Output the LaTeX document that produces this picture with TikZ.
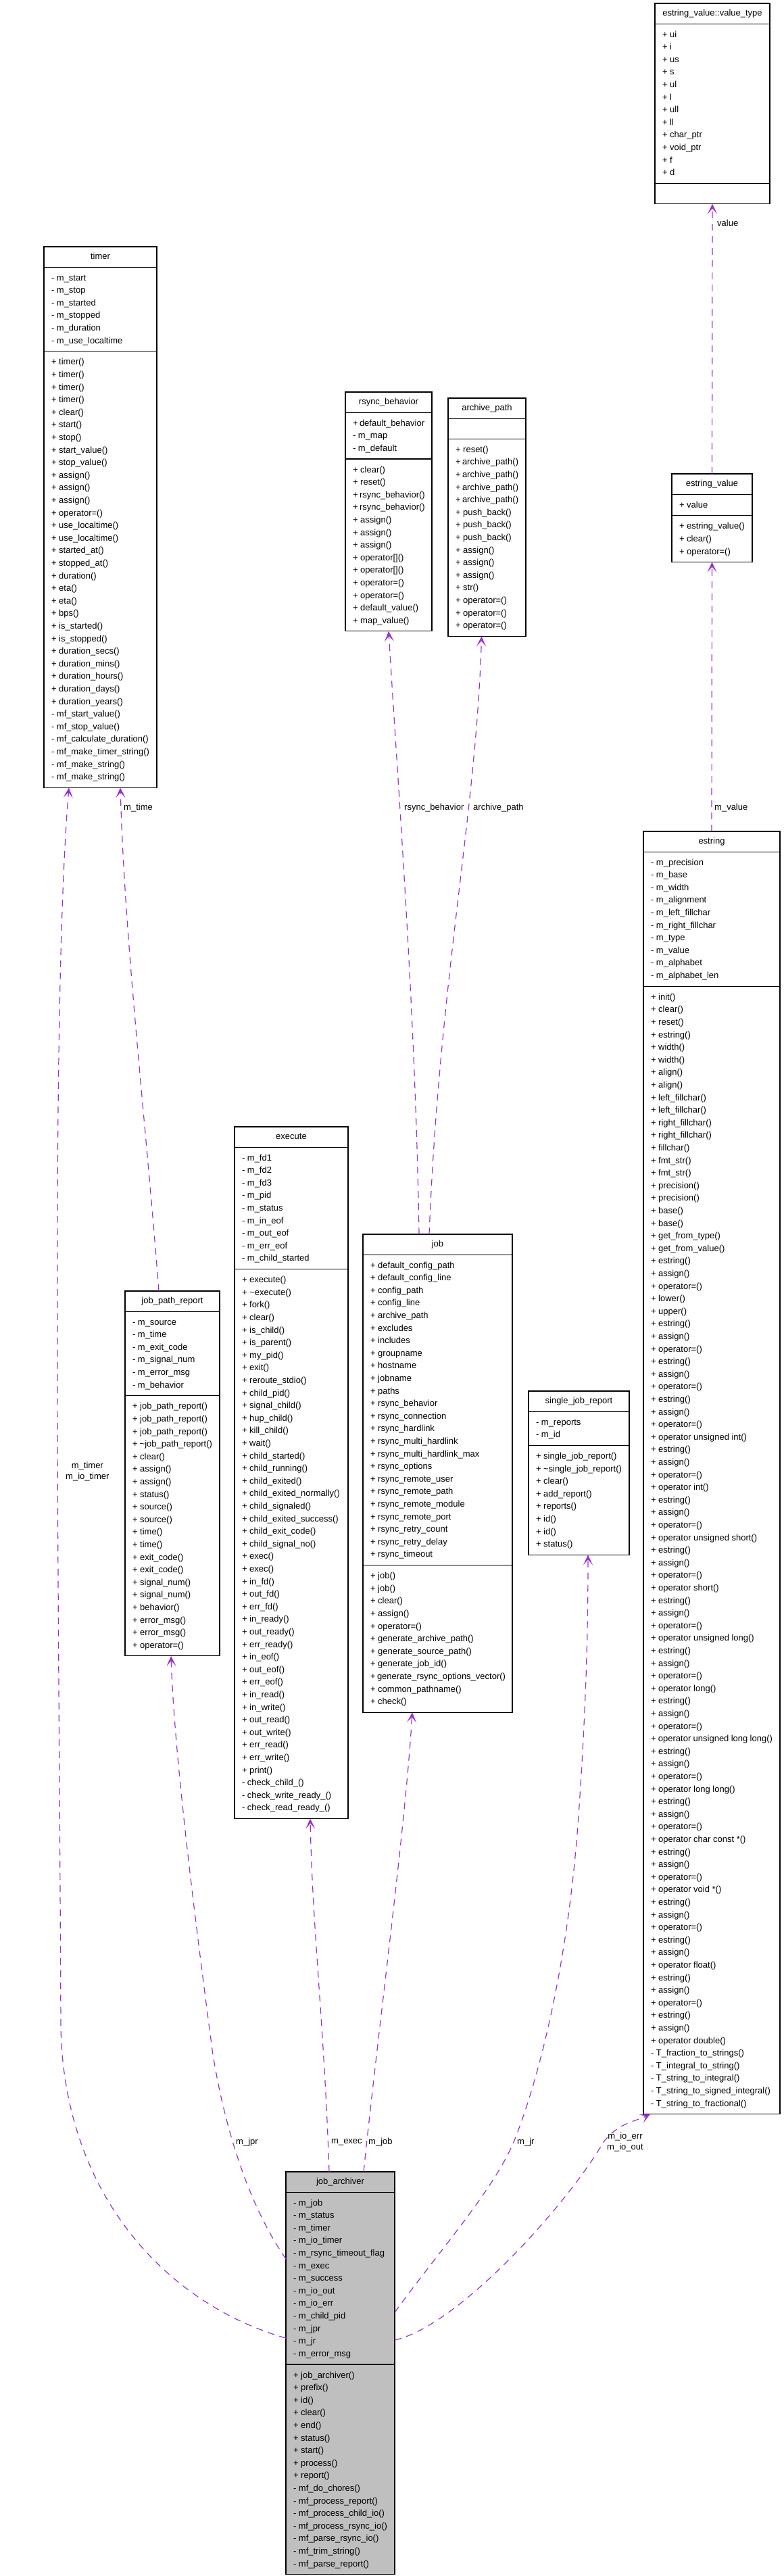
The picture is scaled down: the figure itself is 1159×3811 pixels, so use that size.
\documentclass[tikz,border=0pt]{standalone}
\usepackage{fontspec}
\setmainfont{Liberation Sans}
\usetikzlibrary{shapes.multipart,arrows.meta,calc}
\definecolor{relc}{RGB}{154,50,205}
\definecolor{mainfill}{RGB}{191,191,191}
\newcommand{\cl}[1]{\hbox to \hsize{\rule[-5.1pt]{0pt}{18.6pt}#1\hfil}}
\newcommand{\pub}[1]{\cl{+ #1}}
\newcommand{\pri}[1]{\cl{- #1}}
\newcommand{\cempty}{\hbox to \hsize{\rule{0pt}{17pt}\hfil}}
\newcommand{\umlbox}[8]{%
  \node[cls,#1] (#2) at (#3,#4) {\hbox to \dimexpr#5pt-22pt\relax{\hfil\rule[-4.6pt]{0pt}{17pt}#6\hfil}%
   \nodepart{two}\vbox{\hsize=\dimexpr#5pt-22pt\relax\offinterlineskip#7}%
   \nodepart{three}\vbox{\hsize=\dimexpr#5pt-22pt\relax\offinterlineskip#8}};}
\tikzset{
  cls/.style={draw=black, line width=1.1pt, fill=white, rectangle split, rectangle split parts=3,
    inner xsep=11pt, inner ysep=6pt, outer sep=0pt, anchor=north west, font=\fontsize{13}{15}\selectfont},
  mainbox/.style={fill=mainfill},
  rel/.style={draw=relc, line width=1.2pt, dash pattern=on 10pt off 8pt,
    -{Stealth[length=15pt,width=14pt,inset=8pt]}},
  lbl/.style={font=\fontsize{13}{16}\selectfont, inner sep=1pt, anchor=west, align=center}
}
\begin{document}
\begin{tikzpicture}[x=1pt,y=-1pt]
\useasboundingbox (0,0) rectangle (1159,3811);
\fill[white] (0,0) rectangle (1159,3811);

\umlbox{}{vt}{969}{5}{170}{estring\_value::value\_type}
{\pub{ui}\pub{i}\pub{us}\pub{s}\pub{ul}\pub{l}\pub{ull}\pub{ll}\pub{char\_ptr}\pub{void\_ptr}\pub{f}\pub{d}}
{\cempty}

\umlbox{}{tm}{65}{365}{167}{timer}
{\pri{m\_start}\pri{m\_stop}\pri{m\_started}\pri{m\_stopped}\pri{m\_duration}\pri{m\_use\_localtime}}
{\pub{timer()}\pub{timer()}\pub{timer()}\pub{timer()}\pub{clear()}\pub{start()}\pub{stop()}\pub{start\_value()}\pub{stop\_value()}\pub{assign()}\pub{assign()}\pub{assign()}\pub{operator=()}\pub{use\_localtime()}\pub{use\_localtime()}\pub{started\_at()}\pub{stopped\_at()}\pub{duration()}\pub{eta()}\pub{eta()}\pub{bps()}\pub{is\_started()}\pub{is\_stopped()}\pub{duration\_secs()}\pub{duration\_mins()}\pub{duration\_hours()}\pub{duration\_days()}\pub{duration\_years()}\pri{mf\_start\_value()}\pri{mf\_stop\_value()}\pri{mf\_calculate\_duration()}\pri{mf\_make\_timer\_string()}\pri{mf\_make\_string()}\pri{mf\_make\_string()}}

\umlbox{}{rb}{511}{580}{128}{rsync\_behavior}
{\pub{default\_behavior}\pri{m\_map}\pri{m\_default}}
{\pub{clear()}\pub{reset()}\pub{rsync\_behavior()}\pub{rsync\_behavior()}\pub{assign()}\pub{assign()}\pub{assign()}\pub{operator[]()}\pub{operator[]()}\pub{operator=()}\pub{operator=()}\pub{default\_value()}\pub{map\_value()}}

\umlbox{}{ap}{663}{589}{115}{archive\_path}
{\cempty}
{\pub{reset()}\pub{archive\_path()}\pub{archive\_path()}\pub{archive\_path()}\pub{archive\_path()}\pub{push\_back()}\pub{push\_back()}\pub{push\_back()}\pub{assign()}\pub{assign()}\pub{assign()}\pub{str()}\pub{operator=()}\pub{operator=()}\pub{operator=()}}

\umlbox{}{ev}{994}{701}{119}{estring\_value}
{\pub{value}}
{\pub{estring\_value()}\pub{clear()}\pub{operator=()}}

\umlbox{}{es}{952}{1230}{202}{estring}
{\pri{m\_precision}\pri{m\_base}\pri{m\_width}\pri{m\_alignment}\pri{m\_left\_fillchar}\pri{m\_right\_fillchar}\pri{m\_type}\pri{m\_value}\pri{m\_alphabet}\pri{m\_alphabet\_len}}
{\pub{init()}\pub{clear()}\pub{reset()}\pub{estring()}\pub{width()}\pub{width()}\pub{align()}\pub{align()}\pub{left\_fillchar()}\pub{left\_fillchar()}\pub{right\_fillchar()}\pub{right\_fillchar()}\pub{fillchar()}\pub{fmt\_str()}\pub{fmt\_str()}\pub{precision()}\pub{precision()}\pub{base()}\pub{base()}\pub{get\_from\_type()}\pub{get\_from\_value()}%
\pub{estring()}\pub{assign()}\pub{operator=()}\pub{lower()}\pub{upper()}%
\pub{estring()}\pub{assign()}\pub{operator=()}\pub{estring()}\pub{assign()}\pub{operator=()}\pub{estring()}\pub{assign()}\pub{operator=()}\pub{operator unsigned int()}%
\pub{estring()}\pub{assign()}\pub{operator=()}\pub{operator int()}%
\pub{estring()}\pub{assign()}\pub{operator=()}\pub{operator unsigned short()}%
\pub{estring()}\pub{assign()}\pub{operator=()}\pub{operator short()}%
\pub{estring()}\pub{assign()}\pub{operator=()}\pub{operator unsigned long()}%
\pub{estring()}\pub{assign()}\pub{operator=()}\pub{operator long()}%
\pub{estring()}\pub{assign()}\pub{operator=()}\pub{operator unsigned long long()}%
\pub{estring()}\pub{assign()}\pub{operator=()}\pub{operator long long()}%
\pub{estring()}\pub{assign()}\pub{operator=()}\pub{operator char const *()}%
\pub{estring()}\pub{assign()}\pub{operator=()}\pub{operator void *()}%
\pub{estring()}\pub{assign()}\pub{operator=()}\pub{estring()}\pub{assign()}\pub{operator float()}%
\pub{estring()}\pub{assign()}\pub{operator=()}\pub{estring()}\pub{assign()}\pub{operator double()}%
\pri{T\_fraction\_to\_strings()}\pri{T\_integral\_to\_string()}\pri{T\_string\_to\_integral()}\pri{T\_string\_to\_signed\_integral()}\pri{T\_string\_to\_fractional()}}

\umlbox{}{ex}{347}{1667}{168}{execute}
{\pri{m\_fd1}\pri{m\_fd2}\pri{m\_fd3}\pri{m\_pid}\pri{m\_status}\pri{m\_in\_eof}\pri{m\_out\_eof}\pri{m\_err\_eof}\pri{m\_child\_started}}
{\pub{execute()}\pub{\textasciitilde execute()}\pub{fork()}\pub{clear()}\pub{is\_child()}\pub{is\_parent()}\pub{my\_pid()}\pub{exit()}\pub{reroute\_stdio()}\pub{child\_pid()}\pub{signal\_child()}\pub{hup\_child()}\pub{kill\_child()}\pub{wait()}\pub{child\_started()}\pub{child\_running()}\pub{child\_exited()}\pub{child\_exited\_normally()}\pub{child\_signaled()}\pub{child\_exited\_success()}\pub{child\_exit\_code()}\pub{child\_signal\_no()}\pub{exec()}\pub{exec()}\pub{in\_fd()}\pub{out\_fd()}\pub{err\_fd()}\pub{in\_ready()}\pub{out\_ready()}\pub{err\_ready()}\pub{in\_eof()}\pub{out\_eof()}\pub{err\_eof()}\pub{in\_read()}\pub{in\_write()}\pub{out\_read()}\pub{out\_write()}\pub{err\_read()}\pub{err\_write()}\pub{print()}\pri{check\_child\_()}\pri{check\_write\_ready\_()}\pri{check\_read\_ready\_()}}

\umlbox{}{jb}{537}{1826}{221}{job}
{\pub{default\_config\_path}\pub{default\_config\_line}\pub{config\_path}\pub{config\_line}\pub{archive\_path}\pub{excludes}\pub{includes}\pub{groupname}\pub{hostname}\pub{jobname}\pub{paths}\pub{rsync\_behavior}\pub{rsync\_connection}\pub{rsync\_hardlink}\pub{rsync\_multi\_hardlink}\pub{rsync\_multi\_hardlink\_max}\pub{rsync\_options}\pub{rsync\_remote\_user}\pub{rsync\_remote\_path}\pub{rsync\_remote\_module}\pub{rsync\_remote\_port}\pub{rsync\_retry\_count}\pub{rsync\_retry\_delay}\pub{rsync\_timeout}}
{\pub{job()}\pub{job()}\pub{clear()}\pub{assign()}\pub{operator=()}\pub{generate\_archive\_path()}\pub{generate\_source\_path()}\pub{generate\_job\_id()}\pub{generate\_rsync\_options\_vector()}\pub{common\_pathname()}\pub{check()}}

\umlbox{}{jp}{185}{1910}{140}{job\_path\_report}
{\pri{m\_source}\pri{m\_time}\pri{m\_exit\_code}\pri{m\_signal\_num}\pri{m\_error\_msg}\pri{m\_behavior}}
{\pub{job\_path\_report()}\pub{job\_path\_report()}\pub{job\_path\_report()}\pub{\textasciitilde job\_path\_report()}\pub{clear()}\pub{assign()}\pub{assign()}\pub{status()}\pub{source()}\pub{source()}\pub{time()}\pub{time()}\pub{exit\_code()}\pub{exit\_code()}\pub{signal\_num()}\pub{signal\_num()}\pub{behavior()}\pub{error\_msg()}\pub{error\_msg()}\pub{operator=()}}

\umlbox{}{sj}{782}{2058}{149}{single\_job\_report}
{\pri{m\_reports}\pri{m\_id}}
{\pub{single\_job\_report()}\pub{\textasciitilde single\_job\_report()}\pub{clear()}\pub{add\_report()}\pub{reports()}\pub{id()}\pub{id()}\pub{status()}}

\umlbox{mainbox}{ja}{423}{3213}{161}{job\_archiver}
{\pri{m\_job}\pri{m\_status}\pri{m\_timer}\pri{m\_io\_timer}\pri{m\_rsync\_timeout\_flag}\pri{m\_exec}\pri{m\_success}\pri{m\_io\_out}\pri{m\_io\_err}\pri{m\_child\_pid}\pri{m\_jpr}\pri{m\_jr}\pri{m\_error\_msg}}
{\pub{job\_archiver()}\pub{prefix()}\pub{id()}\pub{clear()}\pub{end()}\pub{status()}\pub{start()}\pub{process()}\pub{report()}\pri{mf\_do\_chores()}\pri{mf\_process\_report()}\pri{mf\_process\_child\_io()}\pri{mf\_process\_rsync\_io()}\pri{mf\_parse\_rsync\_io()}\pri{mf\_trim\_string()}\pri{mf\_parse\_report()}}

% connectors
\draw[rel] (ev.north) -- (vt.south);
\draw[rel] (es.north) -- (ev.south);
\draw[rel] ([xshift=83pt]jb.north west) .. controls (615,1500) and (588,1150) .. (rb.south);
\draw[rel] ([xshift=98pt]jb.north west) .. controls (650,1450) and (705,1200) .. ([xshift=-8pt]ap.south);
\draw[rel] ([xshift=50pt]jp.north west) .. controls (215,1650) and (185,1400) .. ([xshift=113pt]tm.south west);
\draw[rel] ($(ja.north west)+(0,246)$) .. controls (250,3410) and (95,3250) .. (90,3000) .. controls (88,2400) and (74,1500) .. ([xshift=37pt]tm.south west);
\draw[rel] ($(ja.north west)+(0,129)$) .. controls (360,3250) and (330,3130) .. (315,3040) .. controls (290,2850) and (258,2600) .. ([xshift=68pt]jp.south west);
\draw[rel] ([xshift=64pt]ja.north west) .. controls (480,3000) and (462,2850) .. ([xshift=112pt]ex.south west);
\draw[rel] ([xshift=115pt]ja.north west) .. controls (560,3000) and (600,2700) .. ([xshift=73pt]jb.south west);
\draw[rel] ($(ja.north east)+(0,208)$) .. controls (650,3330) and (730,3240) .. (760,3169) .. controls (800,3070) and (840,2900) .. (855,2700) .. controls (868,2520) and (870,2400) .. ([xshift=88pt]sj.south west);
\draw[rel] ($(ja.north east)+(0,249)$) .. controls (680,3440) and (840,3260) .. (893,3169) .. controls (915,3140) and (942,3138) .. ([xshift=10pt]es.south west);

% labels
\node[lbl] (l1) at (1060,330) {value};
\node[lbl] (l2) at (1056,1195) {m\_value};
\node[lbl] (l3) at (597,1195) {rsync\_behavior};
\node[lbl] (l4) at (699,1195) {archive\_path};
\node[lbl] (l5) at (182,1195) {m\_time};
\node[lbl] (l6) at (96,2177) {m\_timer\\m\_io\_timer};
\node[lbl] (l7) at (348,3169) {m\_jpr};
\node[lbl] (l8) at (489,3169) {m\_exec};
\node[lbl] (l9) at (544,3169) {m\_job};
\node[lbl] (l10) at (764,3169) {m\_jr};
\node[lbl] (l11) at (897,3169) {m\_io\_err\\m\_io\_out};
\end{tikzpicture}
\end{document}
